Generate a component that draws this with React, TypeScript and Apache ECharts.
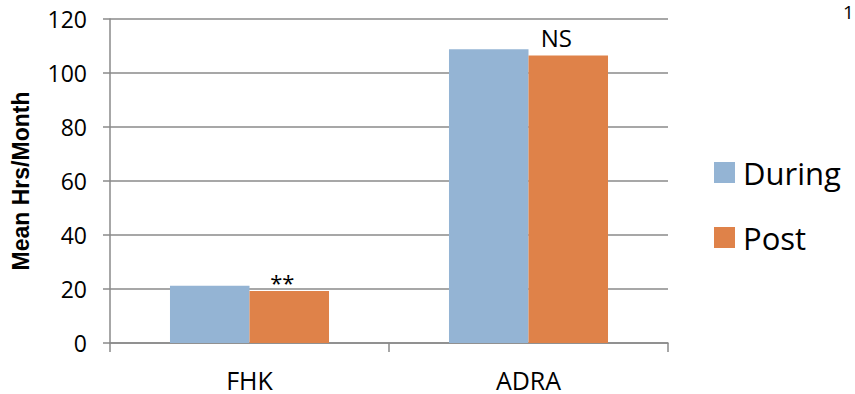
import React, { useEffect, useRef } from "react";
import * as echarts from "echarts";

const categories = ["FHK", "ADRA"];
const duringValues = [21.2, 108.8];
const postValues = [19.3, 106.5];
const postMarks = ["**", "NS"];
const yTicks = { min: 0, max: 120, interval: 20 };

const FONT = "'Open Sans', sans-serif";
const GRID_COLOR = "#8a8a8a";

export default function App() {
  const ref = useRef<HTMLDivElement>(null);

  useEffect(() => {
    if (!ref.current) return;
    const chart = echarts.init(ref.current, undefined, { renderer: "svg" });
    const markOffsets: [number, number][] = [
      [-7, 7],
      [-12, -1],
    ];
    chart.setOption({
      animation: false,
      backgroundColor: "#ffffff",
      grid: { left: 110, right: 187, top: 19, bottom: 51 },
      legend: {
        orient: "vertical",
        left: 714,
        top: 157,
        padding: 0,
        itemWidth: 21,
        itemHeight: 21,
        itemGap: 34,
        icon: "rect",
        textStyle: {
          fontFamily: FONT,
          fontSize: 31,
          color: "#000",
          lineHeight: 21,
          padding: [0, 0, 0, 3],
        },
        data: ["During", "Post"],
      },
      xAxis: {
        type: "category",
        data: categories,
        axisLine: { show: true, lineStyle: { color: GRID_COLOR, width: 1.5 } },
        axisTick: { show: true, length: 9, lineStyle: { color: GRID_COLOR, width: 1.5 } },
        axisLabel: {
          fontFamily: FONT,
          fontSize: 25,
          lineHeight: 20,
          color: "#000",
          margin: 27,
        },
      },
      yAxis: {
        type: "value",
        min: yTicks.min,
        max: yTicks.max,
        interval: yTicks.interval,
        name: "Mean Hrs/Month",
        nameLocation: "middle",
        nameGap: 78,
        nameRotate: 90,
        nameTextStyle: {
          fontFamily: "'Liberation Sans', Arial, sans-serif",
          fontWeight: "bold",
          fontSize: 23,
          color: "#000",
        },
        axisLine: { show: true, lineStyle: { color: GRID_COLOR, width: 1.5 } },
        axisTick: { show: true, length: 7, lineStyle: { color: GRID_COLOR, width: 1.5 } },
        axisLabel: { fontFamily: FONT, fontSize: 23, color: "#000", margin: 23 },
        splitLine: { show: true, lineStyle: { color: GRID_COLOR, width: 1.5 } },
      },
      series: [
        {
          name: "During",
          type: "bar",
          data: duringValues,
          barGap: "0%",
          barCategoryGap: "43%",
          itemStyle: { color: "#94B4D4" },
        },
        {
          name: "Post",
          type: "bar",
          data: postValues.map((v, i) => ({
            value: v,
            label: {
              show: true,
              position: "top",
              distance: 5,
              offset: markOffsets[i],
              formatter: postMarks[i],
              fontFamily: FONT,
              fontSize: i === 0 ? 22 : 24,
              color: "#000",
            },
          })),
          barGap: "0%",
          barCategoryGap: "43%",
          itemStyle: { color: "#DF8249" },
        },
      ],
      graphic: [
        {
          type: "text",
          x: 843,
          y: 2,
          style: { text: "1", fontFamily: FONT, fontSize: 19, fill: "#000" },
        },
      ],
    });
    return () => chart.dispose();
  }, []);

  return (
    <div
      ref={ref}
      style={{ position: "fixed", left: 0, top: 0, width: 855, height: 394 }}
    />
  );
}
